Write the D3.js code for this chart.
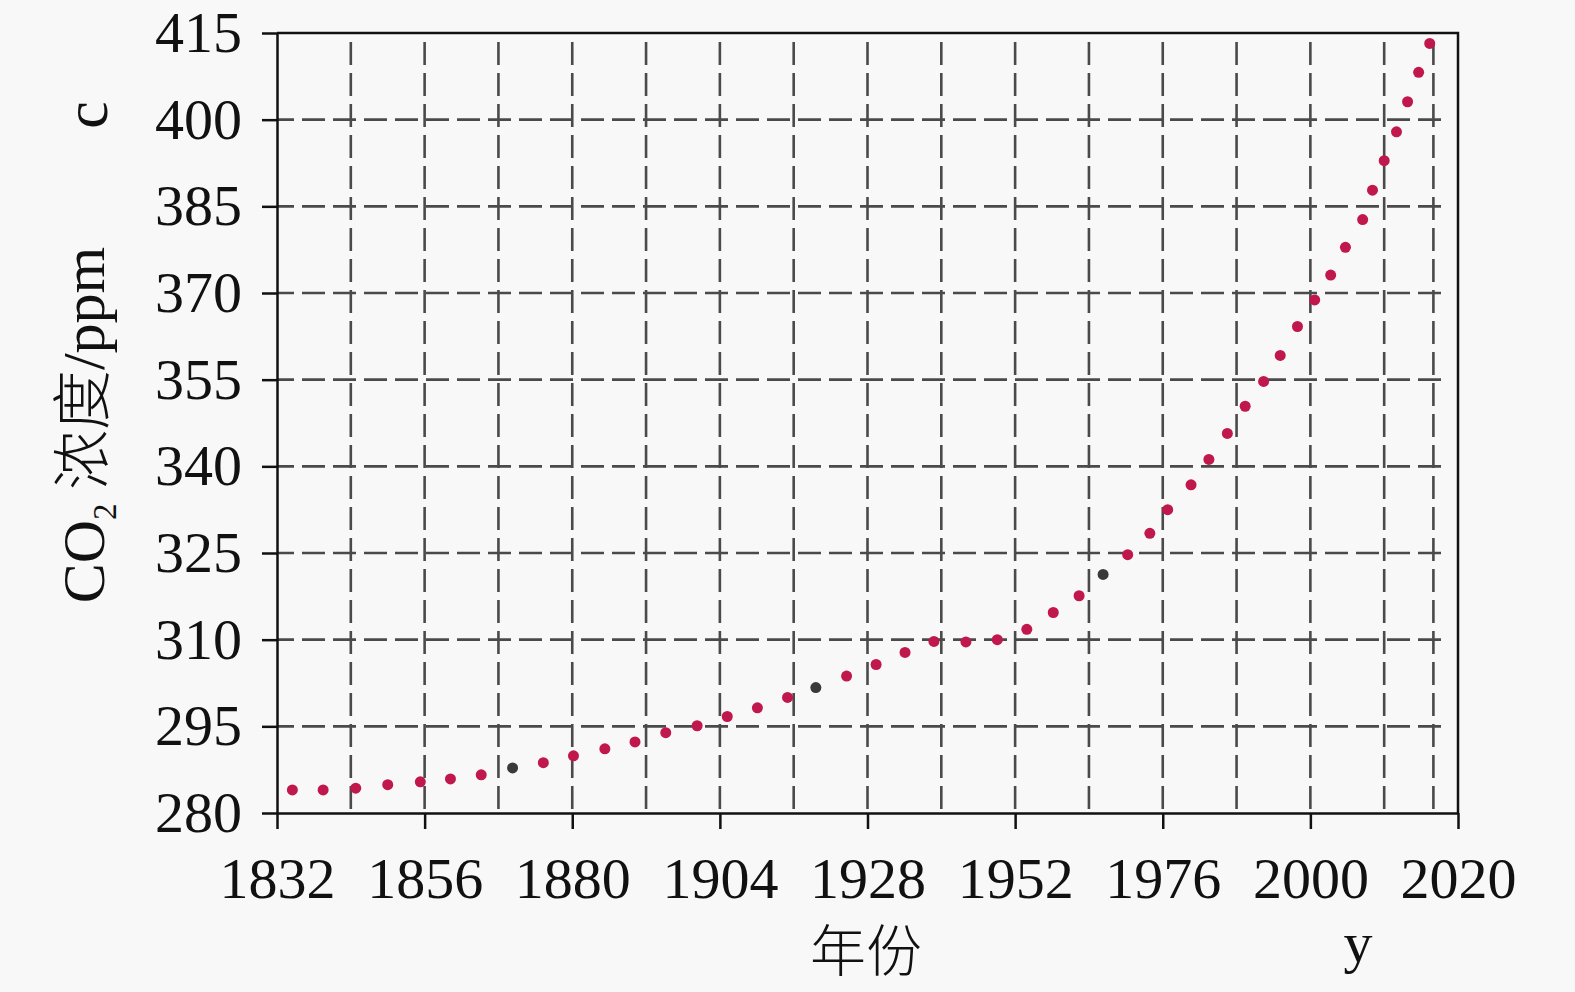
<!DOCTYPE html>
<html lang="zh">
<head>
  <meta charset="UTF-8">
  <title>CO2 浓度</title>
  <script src="https://d3js.org/d3.v7.min.js"></script>
  <style>
    body { margin: 0; background: #f8f8f8; }
    svg { display: block; }
    .eje text { font-family: "Liberation Serif", "Times New Roman", serif; font-size: 58px; fill: #111; }
    .eje path, .eje line { stroke: #111; stroke-width: 2.5; }
  </style>
</head>
<body>
  <div id="miVisualizacion"></div>

  <script>
    // datos
    const anios = [1834.5, 1839.5, 1844.8, 1850.0, 1855.3, 1860.2, 1865.2, 1870.3, 1875.3, 1880.2,
                   1885.3, 1890.2, 1895.2, 1900.3, 1905.2, 1910.1, 1915.0, 1919.6, 1924.6, 1929.4,
                   1934.1, 1938.8, 1944.0, 1949.1, 1953.9, 1958.2, 1962.4, 1966.3, 1970.3, 1973.9,
                   1976.8, 1980.6, 1983.5, 1986.5, 1989.4, 1992.4, 1995.1, 1997.9, 2000.7, 2003.3,
                   2005.7, 2008.5, 2010.1, 2012.0, 2014.0, 2015.8, 2017.6, 2019.4];
    const co2 = [284.0, 284.0, 284.3, 284.9, 285.4, 285.9, 286.6, 287.8, 288.7, 289.9,
                 291.1, 292.3, 293.9, 295.1, 296.7, 298.2, 300.0, 301.7, 303.7, 305.7,
                 307.8, 309.7, 309.6, 310.0, 311.8, 314.7, 317.6, 321.3, 324.7, 328.4,
                 332.5, 336.8, 341.2, 345.7, 350.4, 354.7, 359.2, 364.2, 368.8, 373.1,
                 377.9, 382.7, 387.8, 392.9, 397.9, 403.1, 408.2, 413.2];
    // puntos que salen en gris oscuro
    const puntosGrises = [7, 17, 27];

    const ticksY = [280, 295, 310, 325, 340, 355, 370, 385, 400, 415];
    const ticksX = [1832, 1856, 1880, 1904, 1928, 1952, 1976, 2000, 2024];
    const etiquetasX = ["1832", "1856", "1880", "1904", "1928", "1952", "1976", "2000", "2020"];
    const rejillaX = [1844, 1856, 1868, 1880, 1892, 1904, 1916, 1928, 1940, 1952, 1964, 1976, 1988, 2000, 2012, 2020];

    const ancho = 1575;
    const alto = 992;
    const margen = { superior: 33, derecho: 117, inferior: 179, izquierdo: 277 };

    const svg = d3.select("#miVisualizacion")
      .append("svg")
      .attr("width", ancho)
      .attr("height", alto);

    svg.append("rect")
      .attr("width", ancho)
      .attr("height", alto)
      .attr("fill", "#f8f8f8");

    const x = d3.scaleLinear()
      .domain([1832, 2024])
      .range([margen.izquierdo, ancho - margen.derecho]);

    const y = d3.scaleLinear()
      .domain([280, 415])
      .range([alto - margen.inferior, margen.superior]);

    // rejilla discontinua
    const rejilla = svg.append("g")
      .attr("stroke", "#4a4a4a")
      .attr("stroke-width", 2.6)
      .attr("stroke-dasharray", "23,8");

    rejilla.selectAll(".hz")
      .data(ticksY.slice(1, -1))
      .enter()
      .append("line")
      .attr("stroke-dashoffset", 6)
      .attr("x1", x(1832))
      .attr("x2", x(2024) - 10)
      .attr("y1", d => y(d))
      .attr("y2", d => y(d));

    rejilla.selectAll(".vt")
      .data(rejillaX)
      .enter()
      .append("line")
      .attr("x1", d => x(d))
      .attr("x2", d => x(d))
      .attr("y1", y(415) + 9)
      .attr("y2", y(280));

    // marco superior y derecho
    svg.append("path")
      .attr("d", `M${x(1832)},${y(415)}H${x(2024)}V${y(280)}`)
      .attr("fill", "none")
      .attr("stroke", "#111")
      .attr("stroke-width", 2.5);

    // ejes
    svg.append("g")
      .attr("class", "eje")
      .attr("transform", `translate(0,${y(280)})`)
      .call(d3.axisBottom(x)
        .tickValues(ticksX)
        .tickFormat((d, i) => etiquetasX[i])
        .tickSize(16)
        .tickSizeOuter(0)
        .tickPadding(28));

    svg.append("g")
      .attr("class", "eje")
      .attr("transform", `translate(${x(1832)},0)`)
      .call(d3.axisLeft(y)
        .tickValues(ticksY)
        .tickSize(15)
        .tickSizeOuter(0)
        .tickPadding(20));

    // puntos
    svg.append("g")
      .selectAll("circle")
      .data(anios)
      .enter()
      .append("circle")
      .attr("cx", d => x(d))
      .attr("cy", (d, i) => y(co2[i]))
      .attr("r", 5.5)
      .attr("fill", (d, i) => puntosGrises.includes(i) ? "#3a3a3a" : "#c0184c");

    // titulos de los ejes
    const tituloY = svg.append("text")
      .attr("transform", "translate(104,425) rotate(-90)")
      .attr("text-anchor", "middle")
      .attr("font-size", 60)
      .attr("fill", "#111");
    tituloY.append("tspan").attr("font-family", "Liberation Serif, serif").text("CO");
    tituloY.append("tspan").attr("font-family", "Liberation Serif, serif")
      .attr("font-size", 33).attr("dy", 12).text("2");
    tituloY.append("tspan").attr("dy", -12).attr("font-family", "Noto Sans CJK SC")
      .attr("font-weight", 300).text(" 浓度");
    tituloY.append("tspan").attr("font-family", "Liberation Serif, serif").text("/ppm");

    svg.append("text")
      .attr("transform", "translate(107,115) rotate(-90)")
      .attr("text-anchor", "middle")
      .attr("font-family", "Liberation Serif, serif")
      .attr("font-size", 62)
      .attr("fill", "#111")
      .text("c");

    svg.append("text")
      .attr("x", 866)
      .attr("y", 971)
      .attr("text-anchor", "middle")
      .attr("font-family", "Noto Sans CJK SC")
      .attr("font-weight", 300)
      .attr("font-size", 56)
      .attr("fill", "#111")
      .text("年份");

    svg.append("text")
      .attr("x", 1358)
      .attr("y", 962)
      .attr("text-anchor", "middle")
      .attr("font-family", "Liberation Serif, serif")
      .attr("font-size", 58)
      .attr("fill", "#111")
      .text("y");
  </script>
</body>
</html>
